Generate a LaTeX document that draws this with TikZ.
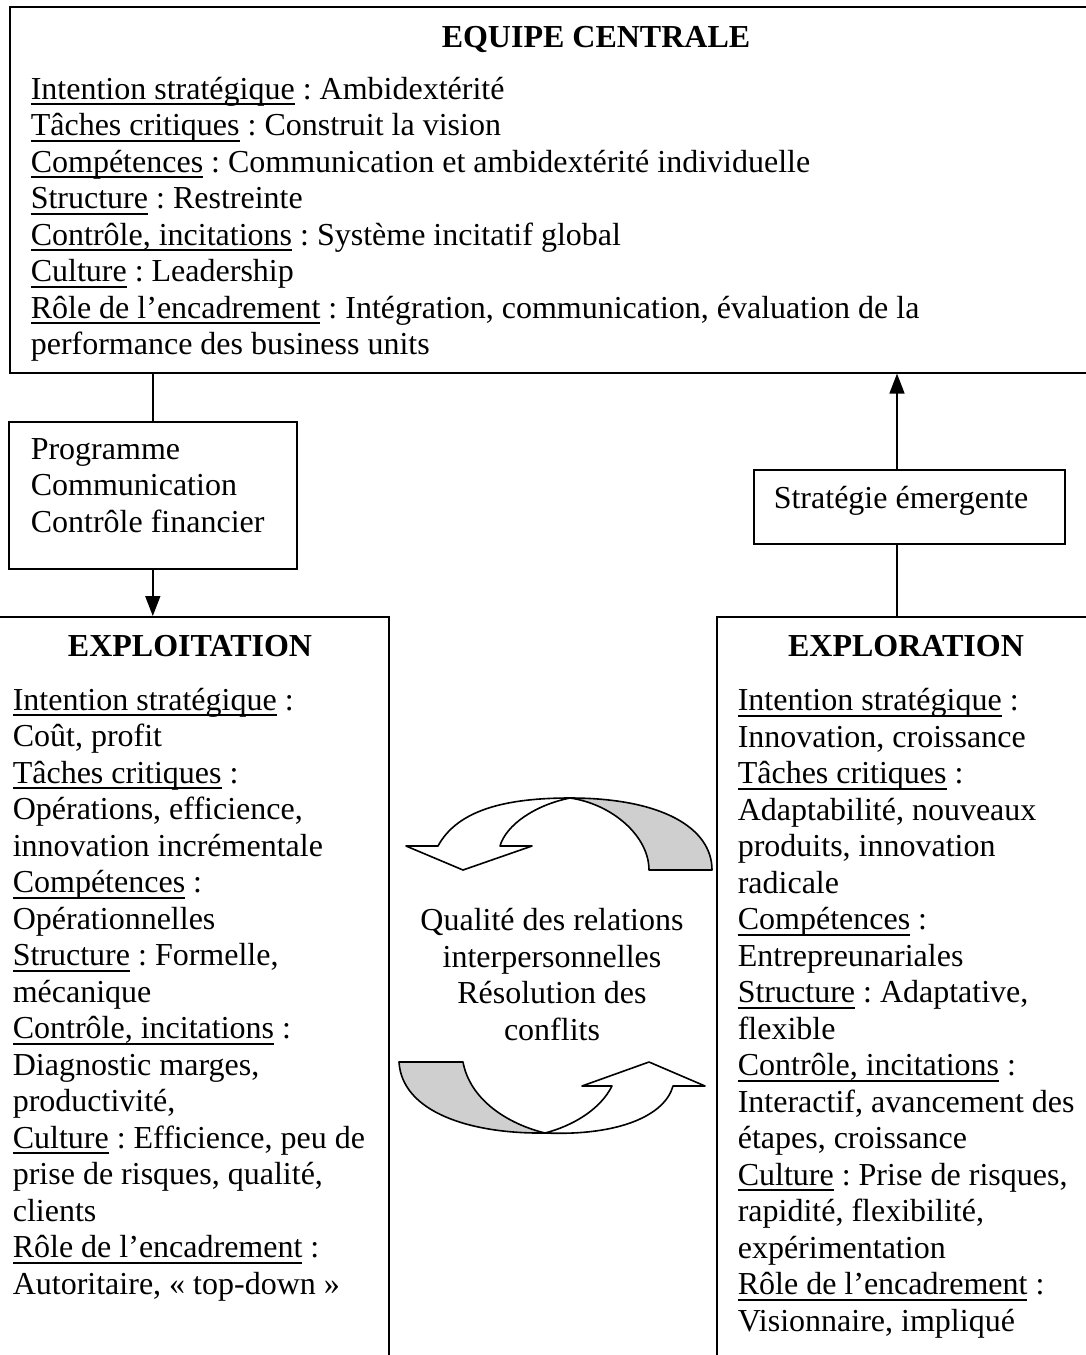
\documentclass[tikz,border=0pt]{standalone}
\usepackage{fontspec}
\setmainfont{Liberation Serif}
\usetikzlibrary{arrows.meta}
\frenchspacing

\newcommand{\undl}[1]{\setbox0=\hbox{#1}\rlap{\rule[-3pt]{\wd0}{0.8pt}}#1}

\tikzset{every picture/.style={line width=0.8pt}}
\tikzset{
	boxnode/.style={draw, line width=0.8pt, anchor=north west, inner sep=0pt},
	bodytext/.style={anchor=base west, inner sep=0pt, align=left, font=\fontsize{16}{18.25}\selectfont},
	titletext/.style={anchor=base, inner sep=0pt, font=\fontsize{16}{18.25}\selectfont\bfseries},
	headarrow/.style={-{Triangle[length=10pt,width=7.5pt]}},
	bandfill/.style={draw, line width=0.8pt, line join=round, fill=gray!38},
	frontfill/.style={draw, line width=0.8pt, line join=round, fill=white}
}

\begin{document}
\begin{tikzpicture}[x=0.5pt,y=0.5pt,yscale=-1,xscale=1]
	\useasboundingbox (0,0) rectangle (1086,1355);
	\clip (0,0) rectangle (1086,1355);
	
	% Boxes
	\node (central) [boxnode, minimum width=545.5pt, minimum height=183pt] at (9,6) {};
	\node (prog) [boxnode, minimum width=144pt, minimum height=73.5pt] at (8,421) {};
	\node (strat) [boxnode, minimum width=155.5pt, minimum height=37pt] at (753,469) {};
	\node (exploit) [boxnode, minimum width=199pt, minimum height=400pt] at (-10,616) {};
	\node (explor) [boxnode, minimum width=200pt, minimum height=400pt] at (716,616) {};
	\coordinate (emx) at (897,0);
	
	% Text Node (base = last line)
	\node (centraltitle) [titletext] at (596,47) {EQUIPE CENTRALE};
	% Text Node
	\node (centraltxt) [bodytext] at (30,354.5) {\undl{Intention stratégique} : Ambidextérité\\
		\undl{Tâches critiques} : Construit la vision\\
		\undl{Compétences} : Communication et ambidextérité individuelle\\
		\undl{Structure} : Restreinte\\
		\undl{Contrôle, incitations} : Système incitatif global\\
		\undl{Culture} : Leadership\\
		\undl{Rôle de l’encadrement} : Intégration, communication, évaluation de la\\
		performance des business units};
	% Text Node
	\node (progtxt) [bodytext] at (30,532) {Programme\\Communication\\Contrôle financier};
	% Text Node
	\node (strattxt) [bodytext] at (773,508) {Stratégie émergente};
	% Text Node
	\node (exploittitle) [titletext] at (190,656) {EXPLOITATION};
	% Text Node
	\node (exploittxt) [bodytext] at (12,1294) {\undl{Intention stratégique} :\\
		Coût, profit\\
		\undl{Tâches critiques} :\\
		Opérations, efficience,\\
		innovation incrémentale\\
		\undl{Compétences} :\\
		Opérationnelles\\
		\undl{Structure} : Formelle,\\
		mécanique\\
		\undl{Contrôle, incitations} :\\
		Diagnostic marges,\\
		productivité,\\
		\undl{Culture} : Efficience, peu de\\
		prise de risques, qualité,\\
		clients\\
		\undl{Rôle de l’encadrement} :\\
		Autoritaire, «~top-down~»};
	% Text Node
	\node (explortitle) [titletext] at (906,656) {EXPLORATION};
	% Text Node
	\node (explortxt) [bodytext] at (737,1331) {\undl{Intention stratégique} :\\
		Innovation, croissance\\
		\undl{Tâches critiques} :\\
		Adaptabilité, nouveaux\\
		produits, innovation\\
		radicale\\
		\undl{Compétences} :\\
		Entrepreunariales\\
		\undl{Structure} : Adaptative,\\
		flexible\\
		\undl{Contrôle, incitations} :\\
		Interactif, avancement des\\
		étapes, croissance\\
		\undl{Culture} : Prise de risques,\\
		rapidité, flexibilité,\\
		expérimentation\\
		\undl{Rôle de l’encadrement} :\\
		Visionnaire, impliqué};
	% Text Node
	\node (relations) [bodytext, anchor=base, align=center] at (552,1040) {Qualité des relations\\interpersonnelles\\Résolution des\\conflits};
	
	% Connection
	\draw (prog.north |- central.south) -- (prog.north);
	% Connection
	\draw [headarrow] (prog.south) -- (prog.south |- exploit.north);
	% Connection
	\draw (emx |- explor.north) -- (emx |- strat.south);
	% Connection
	\draw [headarrow] (emx |- strat.north) -- (emx |- central.south);
	
	% Curved arrow, top
	\draw [bandfill] (649,870) -- (712,870) .. controls (712,828) and (662,798) .. (570,798) .. controls (612,804) and (649,836) .. (649,870) -- cycle;
	\draw [frontfill] (438,846) .. controls (458,809) and (508,798) .. (570,798) .. controls (535,805) and (506,825) .. (500,846) -- (532,846) -- (463,870) -- (406,846) -- cycle;
	% Curved arrow, bottom
	\draw [bandfill] (399,1062) -- (463,1062) .. controls (470,1100) and (508,1124) .. (545,1133) .. controls (470,1134) and (402,1112) .. (399,1062) -- cycle;
	\draw [frontfill] (545,1133) .. controls (620,1136) and (665,1115) .. (673,1086) -- (705,1086) -- (649,1062) -- (582,1086) -- (612,1086) .. controls (600,1110) and (572,1126) .. (545,1133) -- cycle;
\end{tikzpicture}
\end{document}
